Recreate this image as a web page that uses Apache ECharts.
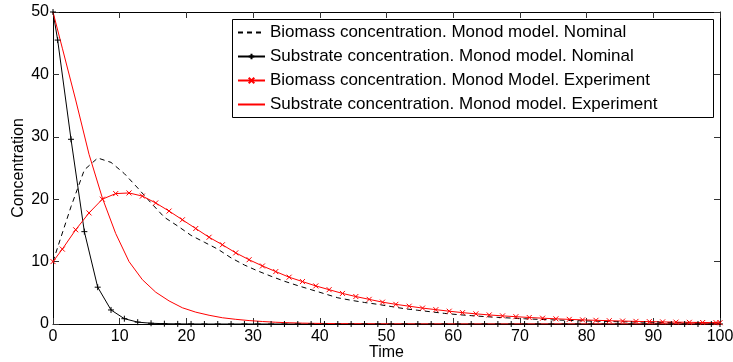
<!DOCTYPE html>
<html><head><meta charset="utf-8">
<script src="https://cdn.jsdelivr.net/npm/echarts@6/dist/echarts.min.js"></script>
<style>html,body{margin:0;padding:0;background:#fff}#c{width:733px;height:362px}</style>
</head><body><div id="c"></div>
<script>
// Time points of the nominal simulation
const tNom = [0, 0.7, 2.7, 4.7, 6.7, 8.7, 10.7, 12.7, 14.7, 16.7, 18.7, 20.7, 22.7, 24.7, 26.7, 28.7, 30.7, 32.7, 34.7, 36.7, 38.7, 40.7, 42.7, 44.7, 46.7, 48.7, 50.7, 52.7, 54.7, 56.7, 58.7, 60.7, 62.7, 64.7, 66.7, 68.7, 70.7, 72.7, 74.7, 76.7, 78.7, 80.7, 82.7, 84.7, 86.7, 88.7, 90.7, 92.7, 94.7, 96.7, 98.7, 100];
// Biomass concentration, Monod model, nominal
const xNom = [10, 12.3, 18.8, 24.7, 26.6, 25.9, 24.1, 21.8, 19.4, 17.1, 15.7, 14.2, 13.1, 12.0, 10.6, 9.45, 8.5, 7.65, 6.85, 6.15, 5.5, 4.85, 4.2, 3.8, 3.45, 3.15, 2.8, 2.45, 2.2, 1.95, 1.7, 1.5, 1.34, 1.19, 1.06, 0.95, 0.84, 0.75, 0.67, 0.6, 0.53, 0.47, 0.42, 0.37, 0.33, 0.3, 0.26, 0.23, 0.21, 0.19, 0.17, 0.16];
// Substrate concentration, Monod model, nominal
const sNom = [50, 45.5, 29.6, 14.8, 5.9, 2.25, 0.85, 0.3, 0.12, 0.05, 0.02, 0.01, 0, 0, 0, 0, 0, 0, 0, 0, 0, 0, 0, 0, 0, 0, 0, 0, 0, 0, 0, 0, 0, 0, 0, 0, 0, 0, 0, 0, 0, 0, 0, 0, 0, 0, 0, 0, 0, 0, 0, 0];
// Time points of the experiment simulation
const tExp = [0, 1.4, 3.4, 5.4, 7.4, 9.4, 11.4, 13.4, 15.4, 17.4, 19.4, 21.4, 23.4, 25.4, 27.4, 29.4, 31.4, 33.4, 35.4, 37.4, 39.4, 41.4, 43.4, 45.4, 47.4, 49.4, 51.4, 53.4, 55.4, 57.4, 59.4, 61.4, 63.4, 65.4, 67.4, 69.4, 71.4, 73.4, 75.4, 77.4, 79.4, 81.4, 83.4, 85.4, 87.4, 89.4, 91.4, 93.4, 95.4, 97.4, 99.4, 100];
// Biomass concentration, Monod model, experiment
const xExp = [10, 12, 15.1, 17.8, 20, 20.9, 21, 20.5, 19.4, 18.1, 16.7, 15.3, 13.9, 12.7, 11.4, 10.3, 9.3, 8.4, 7.5, 6.8, 6.1, 5.5, 4.9, 4.4, 3.95, 3.5, 3.15, 2.85, 2.55, 2.3, 2.05, 1.82, 1.63, 1.45, 1.3, 1.17, 1.04, 0.93, 0.83, 0.74, 0.66, 0.59, 0.53, 0.47, 0.42, 0.38, 0.34, 0.3, 0.27, 0.24, 0.22, 0.21];
// Substrate concentration, Monod model, experiment
const sExp = [50, 44.2, 35.9, 27.2, 20.2, 14.5, 10.0, 7.1, 5.1, 3.7, 2.6, 1.9, 1.4, 1.0, 0.75, 0.55, 0.4, 0.28, 0.2, 0.14, 0.1, 0.08, 0.06, 0.05, 0.04, 0.035, 0.03, 0.025, 0.02, 0.02, 0.015, 0.015, 0.01, 0.01, 0.01, 0.01, 0.01, 0.01, 0.01, 0.01, 0.01, 0.01, 0.01, 0.01, 0.01, 0.01, 0.01, 0.01, 0.01, 0.01, 0.01, 0.01];

const seriesNames = [
  'Biomass concentration. Monod model. Nominal',
  'Substrate concentration. Monod model. Nominal',
  'Biomass concentration. Monod Model. Experiment',
  'Substrate concentration. Monod model. Experiment'
];
const xTicks = {min: 0, max: 100, interval: 10};
const yTicks = {min: 0, max: 50, interval: 10};

const pair = (t, v) => t.map((x, i) => [x, v[i]]);
const FONT = '"Liberation Sans", Arial, Helvetica, sans-serif';
const PLUS = 'path://M0,5L10,5M5,0L5,10';
const CROSS = 'path://M0,0L10,10M10,0L0,10';

const chart = echarts.init(document.getElementById('c'), null, {renderer: 'canvas'});
const axisCommon = {
  type: 'value',
  axisLine: {show: true, onZero: false, lineStyle: {color: '#000', width: 1}},
  axisTick: {show: true, inside: true, length: 6, lineStyle: {color: '#333'}},
  splitLine: {show: false}
};
const hideSym = {opacity: 0};
const option = {
  animation: false,
  backgroundColor: '#fff',
  grid: {left: 53, right: 13, top: 12, bottom: 38, containLabel: false, outerBoundsMode: 'none'},
  xAxis: [
    Object.assign({}, axisCommon, xTicks, {
      position: 'bottom',
      axisLabel: {color: '#000', fontSize: 16, fontFamily: FONT, margin: 5},
      name: 'Time', nameLocation: 'middle', nameGap: 21, nameMoveOverlap: false,
      nameTextStyle: {color: '#000', fontSize: 16, fontFamily: FONT}
    }),
    Object.assign({}, axisCommon, xTicks, {position: 'top', axisLabel: {show: false}})
  ],
  yAxis: [
    Object.assign({}, axisCommon, yTicks, {
      position: 'left',
      axisLabel: {color: '#000', fontSize: 16, fontFamily: FONT, margin: 4},
      name: 'Concentration', nameLocation: 'middle', nameGap: 26, nameMoveOverlap: false,
      nameTextStyle: {color: '#000', fontSize: 16, fontFamily: FONT}
    }),
    Object.assign({}, axisCommon, yTicks, {position: 'right', axisLabel: {show: false}})
  ],
  graphic: [{
    type: 'rect', z: 1,
    shape: {x: 232.5, y: 19.5, width: 481, height: 98},
    style: {fill: '#fff', stroke: '#000', lineWidth: 1}
  }],
  legend: {
    left: 232, top: 19, orient: 'vertical',
    padding: [5, 5, 5, 5],
    itemWidth: 27, itemHeight: 7, itemGap: 7,
    z: 10,
    textStyle: {color: '#000', fontSize: 17, fontFamily: FONT},
    data: [
      {name: seriesNames[0], itemStyle: hideSym},
      {name: seriesNames[1]},
      {name: seriesNames[2]},
      {name: seriesNames[3], itemStyle: hideSym}
    ]
  },
  series: [
    {
      name: seriesNames[0], type: 'line', data: pair(tNom, xNom),
      color: '#000', showSymbol: false, symbol: 'none',
      lineStyle: {color: '#000', width: 1, type: [5, 4]}
    },
    {
      name: seriesNames[1], type: 'line', data: pair(tNom, sNom),
      color: '#000', symbol: PLUS, symbolSize: 6,
      itemStyle: {color: '#000', borderColor: '#000', borderWidth: 1},
      lineStyle: {color: '#000', width: 1}
    },
    {
      name: seriesNames[2], type: 'line', data: pair(tExp, xExp),
      color: '#f00', symbol: CROSS, symbolSize: 5,
      itemStyle: {color: '#f00', borderColor: '#f00', borderWidth: 1},
      lineStyle: {color: '#f00', width: 1}
    },
    {
      name: seriesNames[3], type: 'line', data: pair(tExp, sExp),
      color: '#f00', showSymbol: false, symbol: 'none',
      lineStyle: {color: '#f00', width: 1}
    }
  ]
};
chart.setOption(option);
</script>
</body></html>
